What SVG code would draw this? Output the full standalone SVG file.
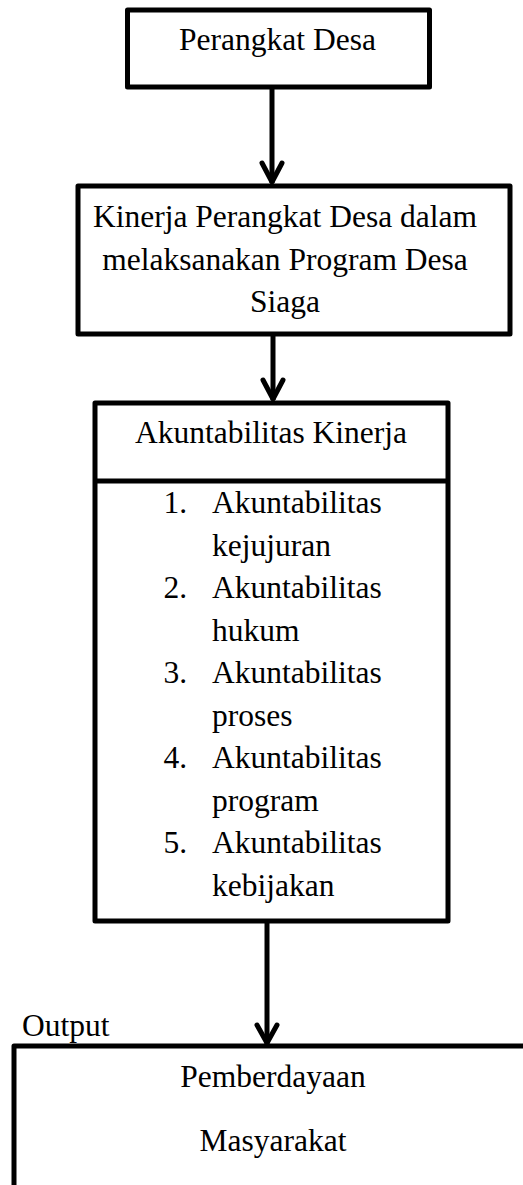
<svg xmlns="http://www.w3.org/2000/svg" width="523" height="1185" viewBox="0 0 523 1185">
<style>
.box{fill:#fff;stroke:#000;stroke-width:5;stroke-linejoin:round}
.t{font-family:"Liberation Serif","Times New Roman",serif;font-size:31.5px;fill:#000}
.c{text-anchor:middle}
.line{stroke:#000;stroke-width:5;fill:none}
.head{stroke:#000;stroke-width:5;fill:none;stroke-linecap:round;stroke-linejoin:round}
</style>
<rect width="523" height="1185" fill="#fff"/>
<g id="connectors">
<line class="line" x1="272" y1="88" x2="272" y2="183"/>
<polyline class="head" points="262,163 272,182 282,163"/>
<line class="line" x1="273" y1="334" x2="273" y2="400"/>
<polyline class="head" points="263,380 273,399 283,380"/>
<line class="line" x1="267" y1="922" x2="267" y2="1044"/>
<polyline class="head" points="257,1025 267,1043 277,1025"/>
</g>
<g id="node-perangkat">
<rect class="box" x="127.5" y="10" width="302" height="77"/>
<text class="t c" x="277.5" y="50">Perangkat Desa</text>
</g>
<g id="node-kinerja">
<rect class="box" x="78" y="186" width="432" height="148"/>
<text class="t c" x="285" y="227">Kinerja Perangkat Desa dalam</text>
<text class="t c" x="285" y="270">melaksanakan Program Desa</text>
<text class="t c" x="285" y="312">Siaga</text>
</g>
<g id="node-akuntabilitas">
<rect class="box" x="95" y="403" width="353" height="518"/>
<line class="line" x1="95" y1="481" x2="448" y2="481"/>
<text class="t c" x="271" y="443">Akuntabilitas Kinerja</text>
<text class="t" x="187" y="513" text-anchor="end">1.</text>
<text class="t" x="212" y="513">Akuntabilitas</text>
<text class="t" x="212" y="555.5">kejujuran</text>
<text class="t" x="187" y="598" text-anchor="end">2.</text>
<text class="t" x="212" y="598">Akuntabilitas</text>
<text class="t" x="212" y="640.5">hukum</text>
<text class="t" x="187" y="683" text-anchor="end">3.</text>
<text class="t" x="212" y="683">Akuntabilitas</text>
<text class="t" x="212" y="725.5">proses</text>
<text class="t" x="187" y="768" text-anchor="end">4.</text>
<text class="t" x="212" y="768">Akuntabilitas</text>
<text class="t" x="212" y="810.5">program</text>
<text class="t" x="187" y="853" text-anchor="end">5.</text>
<text class="t" x="212" y="853">Akuntabilitas</text>
<text class="t" x="212" y="895.5">kebijakan</text>
</g>
<g id="node-output">
<text class="t" x="22" y="1036">Output</text>
<rect class="box" x="14" y="1046" width="520" height="160"/>
<text class="t c" x="273" y="1087">Pemberdayaan</text>
<text class="t c" x="273" y="1151">Masyarakat</text>
</g>
</svg>
